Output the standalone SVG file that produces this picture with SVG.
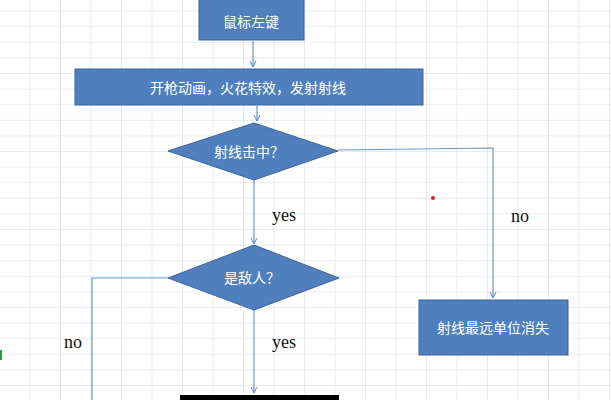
<svg xmlns="http://www.w3.org/2000/svg" width="611" height="400" viewBox="0 0 611 400">
<defs>
<pattern id="grid" width="30.5" height="15.6" patternUnits="userSpaceOnUse" x="0" y="-4">
<rect width="30.5" height="15.6" fill="#fff"/>
<path d="M30.5 0V15.6M0 15.6H30.5" stroke="#d0d7e2" stroke-width="1" fill="none"/>
</pattern>
<marker id="ah" markerWidth="8" markerHeight="8" refX="6" refY="4" orient="auto" markerUnits="userSpaceOnUse"><path d="M0 1L6 4L0 7" fill="none" stroke="#5a86c0" stroke-width="1"/></marker>
<style>
.n{fill:#4f7fbd;stroke:#3d6597;stroke-width:1}
.t{fill:#fff;font-family:"Noto Sans CJK SC",sans-serif;font-size:14px;text-anchor:middle;dominant-baseline:central}
.l{font-family:"Liberation Serif",serif;font-size:18px;fill:#111}
.c{fill:none;stroke:#6a94c8;stroke-width:1.2}
</style>
</defs>
<rect width="611" height="400" fill="url(#grid)"/>
<rect x="0" y="350" width="2" height="10" fill="#2a9a3a"/>
<circle cx="433" cy="198" r="2" fill="#e02020"/>
<g id="connectors">
<path class="c" d="M253 41V67" marker-end="url(#ah)"/>
<path class="c" d="M257 106V121" marker-end="url(#ah)"/>
<path class="c" d="M338 150L493 148V298" marker-end="url(#ah)"/>
<path class="c" d="M254 180V244" marker-end="url(#ah)"/>
<path class="c" d="M168 278H92V400"/>
<path class="c" d="M254 310V393" marker-end="url(#ah)"/>
</g>
<g id="n1"><rect class="n" x="199" y="-2" width="105" height="42"/><text class="t" x="251" y="21">鼠标左键</text></g>
<g id="n2"><rect class="n" x="75" y="69" width="348" height="36"/><text class="t" x="248" y="87">开枪动画，火花特效，发射射线</text></g>
<g id="n3"><polygon class="n" points="254,123 338,151 254,180 168,151"/><text class="t" x="249" y="151">射线击中？</text></g>
<g id="n4"><polygon class="n" points="254,245 339,278 254,310 168,278"/><text class="t" x="252" y="277">是敌人？</text></g>
<g id="n5"><rect class="n" x="419" y="300" width="149" height="55"/><text class="t" x="493" y="327">射线最远单位消失</text></g>
<g id="n6"><rect x="180" y="395" width="159" height="6" fill="#000"/></g>
<text class="l" x="272" y="221">yes</text>
<text class="l" x="511" y="222">no</text>
<text class="l" x="64" y="348">no</text>
<text class="l" x="272" y="348">yes</text>
</svg>
